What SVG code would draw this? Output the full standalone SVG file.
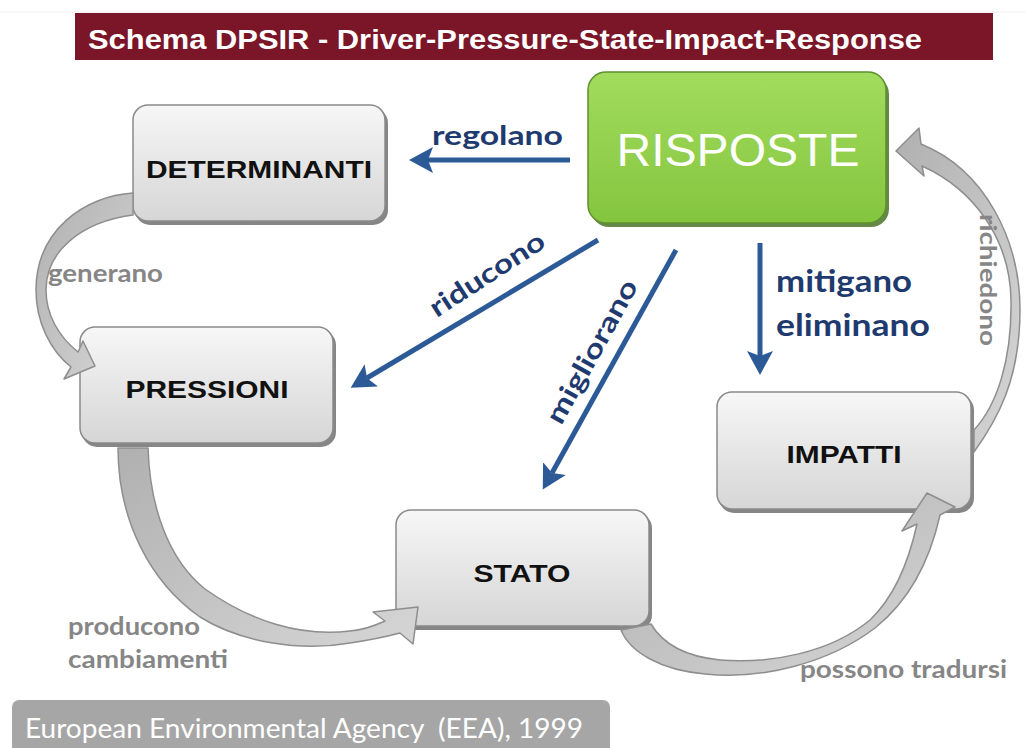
<svg xmlns="http://www.w3.org/2000/svg" width="1026" height="748" viewBox="0 0 1026 748">
<defs>
<linearGradient id="gbox" x1="0" y1="0" x2="0" y2="1">
<stop offset="0" stop-color="#f7f7f7"/><stop offset="0.5" stop-color="#e6e6e6"/><stop offset="1" stop-color="#d6d6d6"/>
</linearGradient>
<linearGradient id="grn" x1="0" y1="0" x2="0" y2="1">
<stop offset="0" stop-color="#a2dc5e"/><stop offset="1" stop-color="#84c53e"/>
</linearGradient>
<linearGradient id="band" x1="0" y1="0" x2="1" y2="1">
<stop offset="0" stop-color="#b0b0b0"/><stop offset="1" stop-color="#d6d6d6"/>
</linearGradient>
<marker id="ah" markerWidth="6" markerHeight="6" refX="1" refY="3" orient="auto" markerUnits="strokeWidth">
<path d="M0,0.4 L4.8,3 L0,5.6 L1,3 Z" fill="#2c5a97"/>
</marker>
<style>
.box{fill:url(#gbox);stroke:#8a8a8a;stroke-width:1.5}
.sh{fill:#5e5e5e;opacity:0.75}
.lbl{font-family:"Liberation Sans",Arial,sans-serif;font-weight:bold;font-size:23px;fill:#111;text-anchor:middle}
.blue{stroke:#2c5a97;stroke-width:5;fill:none;marker-end:url(#ah)}
.bt{font-family:Lato,"Open Sans",sans-serif;font-weight:bold;fill:#1f3a6e}
.gt{font-family:Lato,"Open Sans",sans-serif;font-weight:bold;fill:#868686}
.arc{fill:url(#band);stroke:#8e8e8e;stroke-width:1.5;stroke-linejoin:round}
</style>
</defs>
<rect width="1026" height="748" fill="#ffffff"/>
<line x1="0" y1="12" x2="1026" y2="12" stroke="#eeeeee" stroke-width="1"/>
<g id="title">
<rect x="75" y="13" width="918" height="47" fill="#7b1528"/>
<text x="88" y="49" font-family="'Liberation Sans',Arial,sans-serif" font-weight="bold" font-size="27" fill="#ffffff" textLength="834" lengthAdjust="spacingAndGlyphs">Schema DPSIR - Driver-Pressure-State-Impact-Response</text>
</g>
<g id="determinanti">
<rect class="sh" x="135" y="108" width="253" height="117" rx="15"/>
<rect class="box" x="133" y="105" width="252" height="116" rx="15"/>
<text class="lbl" x="259" y="178" textLength="226" lengthAdjust="spacingAndGlyphs">DETERMINANTI</text>
</g>
<g id="pressioni">
<rect class="sh" x="82" y="330" width="254" height="117" rx="15"/>
<rect class="box" x="80" y="327" width="253" height="116" rx="15"/>
<text class="lbl" x="207" y="398" textLength="163" lengthAdjust="spacingAndGlyphs">PRESSIONI</text>
</g>
<g id="stato">
<rect class="sh" x="398" y="513" width="254" height="117" rx="15"/>
<rect class="box" x="396" y="510" width="253" height="116" rx="15"/>
<text class="lbl" x="522" y="582" textLength="97" lengthAdjust="spacingAndGlyphs">STATO</text>
</g>
<g id="impatti">
<rect class="sh" x="719" y="395" width="255" height="118" rx="15"/>
<rect class="box" x="717" y="392" width="254" height="117" rx="15"/>
<text class="lbl" x="844" y="463" textLength="115" lengthAdjust="spacingAndGlyphs">IMPATTI</text>
</g>
<g id="risposte">
<rect x="591" y="76" width="298" height="151" rx="18" fill="#3f6a1c" opacity="0.8"/>
<rect x="588" y="72" width="298" height="151" rx="18" fill="url(#grn)" stroke="#5f8f2e" stroke-width="1.5"/>
<text x="738" y="166" font-family="'Liberation Sans',Arial,sans-serif" font-size="46" fill="#ffffff" text-anchor="middle" textLength="243" lengthAdjust="spacingAndGlyphs">RISPOSTE</text>
</g>
<g id="connectors">
<g id="curved">
<path class="arc" d="M133,193 C85,196 36,230 36,290 C36,322 50,350 71,367 L64,379 L95,366 L83,341 L78,352 C58,336 46,314 46,290 C46,252 80,222 133,215 Z"/>
<path class="arc" d="M118,448 C118,520 150,582 200,617 C240,642 300,652 350,643 C370,640 385,637 400,633 L413,644 L418,607 L373,612 L385,621 C372,627 362,630 350,631 C300,637 250,621 205,589 C170,561 150,510 148,448 Z"/>
<path class="arc" d="M621,630 C630,652 660,670 705,674 C765,680 830,662 875,628 C910,600 930,560 940,515 L955,507 L927,493 L902,531 L917,524 C908,565 893,598 870,620 C830,653 770,664 720,660 C690,657 664,646 651,624 Z"/>
<path class="arc" d="M974,452 C997,420 1020,380 1020,310 C1020,240 985,170 921,144 L919,128 L896,151 L924,176 L922,166 C975,190 1010,240 1011,300 C1012,360 997,405 974,430 Z"/>
</g>
<g id="blue">
<line class="blue" x1="570" y1="160" x2="428" y2="160"/>
<line class="blue" x1="598" y1="240" x2="367" y2="378"/>
<line class="blue" x1="676" y1="250" x2="552" y2="473"/>
<line class="blue" x1="760" y1="243" x2="760" y2="356"/>
</g>
</g>
<g id="labels">
<text class="bt" x="432" y="145" font-size="27" textLength="131" lengthAdjust="spacingAndGlyphs">regolano</text>
<text class="bt" font-size="27" text-anchor="middle" transform="translate(492,282) rotate(-33)" textLength="132" lengthAdjust="spacingAndGlyphs">riducono</text>
<text class="bt" font-size="27" text-anchor="middle" transform="translate(600,356) rotate(-61)" textLength="160" lengthAdjust="spacingAndGlyphs">migliorano</text>
<text class="bt" x="776" y="292" font-size="30" textLength="136" lengthAdjust="spacingAndGlyphs">mitigano</text>
<text class="bt" x="776" y="336" font-size="30" textLength="154" lengthAdjust="spacingAndGlyphs">eliminano</text>
<text class="gt" x="48" y="282" font-size="24" textLength="115" lengthAdjust="spacingAndGlyphs">generano</text>
<text class="gt" x="68" y="635" font-size="24" textLength="132" lengthAdjust="spacingAndGlyphs">producono</text>
<text class="gt" x="68" y="668" font-size="24" textLength="160" lengthAdjust="spacingAndGlyphs">cambiamenti</text>
<text class="gt" x="800" y="678" font-size="24" textLength="207" lengthAdjust="spacingAndGlyphs">possono tradursi</text>
<text class="gt" font-size="22" text-anchor="middle" transform="translate(980,280) rotate(90)" textLength="132" lengthAdjust="spacingAndGlyphs">richiedono</text>
</g>
<g id="source">
<rect x="12" y="700" width="598" height="60" rx="7" fill="#a6a6a6"/>
<text x="25" y="738" font-family="Lato,'Open Sans',sans-serif" font-size="26" fill="#ffffff" textLength="558" lengthAdjust="spacingAndGlyphs" xml:space="preserve">European Environmental Agency  (EEA), 1999</text>
</g>
</svg>
